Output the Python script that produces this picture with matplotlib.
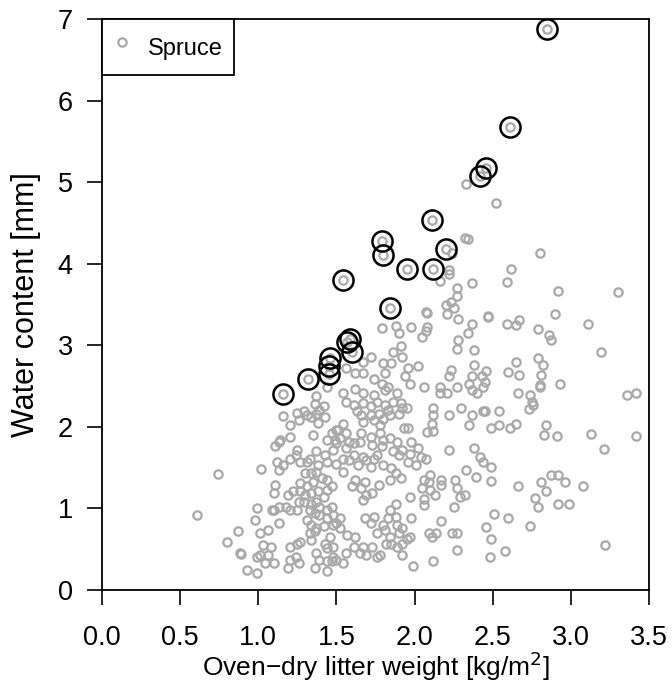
import matplotlib
matplotlib.use("Agg")
import matplotlib.pyplot as plt
from matplotlib.lines import Line2D

# ---- data: oven-dry litter weight [kg/m2] vs. water content [mm] (spruce plots)
spruce_weight = [
    1.16, 1.20, 1.26, 1.25, 1.29, 1.31, 1.34, 1.37, 1.39, 1.43, 1.38, 1.36, 1.42,
    1.35, 1.13, 1.11, 1.20, 1.14, 1.25, 1.24, 1.20, 1.27, 1.31, 1.33, 1.37, 1.43,
    1.44, 1.38, 1.48, 1.49, 1.44, 1.47, 1.50, 1.12, 1.16, 1.13, 1.02, 0.74, 1.30,
    1.34, 1.37, 1.41, 1.44, 1.47, 1.27, 1.31, 1.35, 1.11, 1.10, 1.19, 1.22, 1.27,
    1.30, 1.34, 1.38, 1.44, 1.42, 1.18, 1.13, 1.10, 1.26, 1.29, 1.34, 1.37, 1.39,
    1.47, 1.44, 1.48, 0.99, 0.98, 1.09, 1.20, 1.25, 1.33, 1.36, 1.39, 1.44, 1.48,
    0.61, 1.13, 1.06, 1.01, 0.87, 0.80, 0.88, 0.89, 1.31, 1.34, 1.37, 1.42, 1.33,
    1.34, 1.36, 1.46, 1.43, 1.44, 1.48, 1.48, 1.44, 1.47, 1.03, 1.08, 1.06, 1.01,
    0.99, 1.10, 1.04, 1.20, 1.25, 1.27, 1.24, 1.20, 1.26, 1.19, 1.37, 1.39, 1.36,
    1.44, 0.93, 0.99, 1.37, 1.44,
    1.56, 1.61, 1.67, 1.72, 1.76, 1.81, 1.86, 1.91, 1.95, 1.90, 1.84, 1.77, 1.72,
    1.66, 1.63, 1.67, 1.74, 1.78, 1.80, 1.83, 1.92, 2.12, 2.12, 2.11, 2.08, 2.12,
    2.22, 2.30, 2.37, 2.35, 2.44, 1.54, 1.51, 1.56, 1.52, 1.50, 1.58, 1.56, 1.61,
    1.66, 1.72, 1.65, 1.73, 1.78, 1.80, 1.84, 1.89, 1.93, 1.96, 1.92, 1.98, 1.97,
    2.02, 2.04, 2.07, 2.01, 1.96, 1.90, 1.86, 1.79, 1.76, 1.74, 1.69, 1.67, 1.61,
    1.58, 1.54, 1.64, 1.72, 1.80, 1.85, 1.91, 1.84, 1.88, 1.77, 1.68, 1.66, 1.69,
    1.73, 1.67, 1.62, 1.60, 1.54, 1.50, 2.22, 2.38, 2.42, 2.44, 2.33, 2.39, 2.26,
    2.27, 2.29, 2.32, 2.25, 2.17, 2.17, 2.10, 2.09, 2.06, 2.05, 2.10, 2.13, 2.06,
    2.06, 1.97, 1.88, 1.84, 1.88, 1.83, 1.80, 1.74, 1.68, 1.72, 1.76, 1.81, 1.84,
    1.90, 1.89, 1.92, 1.95, 1.92, 1.97, 1.98, 1.52, 1.50, 1.52, 1.57, 1.62, 1.61,
    1.67, 1.65, 1.69, 1.73, 1.76, 1.78, 1.82, 1.85, 1.89, 1.92, 1.56, 1.54, 1.50,
    1.99, 2.12, 2.17, 2.09, 2.11, 2.14, 2.24, 2.27, 2.27,
    2.66, 2.74, 2.80, 2.75, 2.76, 2.73, 3.36, 3.42, 2.45, 2.54, 2.49, 2.54, 2.61,
    2.65, 2.84, 2.83, 2.91, 3.13, 3.42, 3.21, 2.49, 2.49, 2.66, 2.81, 2.84, 2.87,
    2.92, 2.96, 3.08, 2.77, 2.79, 2.92, 2.99, 2.51, 2.60, 2.46, 2.74, 2.49, 2.58,
    2.48, 3.22,
    2.32, 2.34, 2.24, 2.22, 2.22, 2.16, 2.37, 2.27, 2.27, 2.23, 2.25, 2.20, 2.21,
    2.08, 2.07, 2.28, 2.37, 2.34, 2.28, 2.27, 2.38, 1.79, 1.88, 1.90, 1.98, 2.08,
    2.07, 2.05, 1.91, 1.86, 1.92, 1.85, 1.80, 1.72, 1.67, 1.62, 1.56, 1.67, 1.74,
    1.81, 1.79, 1.83, 1.96, 2.02, 1.94, 1.97, 2.06, 2.16, 2.16, 2.21, 2.23, 2.22,
    2.27, 2.35, 2.37, 2.37, 2.40, 2.43, 2.44, 2.38, 1.54, 1.62, 1.67, 1.74, 1.81,
    1.89, 2.33, 2.52,
    2.80, 2.62, 2.59, 2.92, 3.30, 2.47, 2.47, 2.59, 2.65, 2.67, 2.90, 3.11, 2.79,
    2.86, 2.87, 3.19, 2.46, 2.45, 2.60, 2.65, 2.67, 2.79, 2.82, 2.81, 2.80, 2.93,
]
spruce_water = [
    2.13, 2.02, 2.08, 2.17, 2.20, 2.14, 2.12, 2.16, 2.21, 2.12, 2.05, 2.28, 2.25,
    1.90, 1.82, 1.76, 1.88, 1.84, 1.72, 1.65, 1.61, 1.57, 1.57, 1.61, 1.70, 1.65,
    1.57, 1.53, 1.72, 1.84, 1.84, 1.92, 1.96, 1.57, 1.53, 1.47, 1.48, 1.42, 1.43,
    1.43, 1.45, 1.37, 1.35, 1.27, 1.31, 1.27, 1.33, 1.29, 1.19, 1.17, 1.21, 1.21,
    1.17, 1.19, 1.21, 1.23, 1.14, 1.02, 1.02, 0.98, 1.08, 1.08, 1.06, 1.08, 1.02,
    1.02, 0.98, 0.92, 1.00, 0.86, 0.98, 0.98, 0.98, 0.98, 0.94, 0.92, 0.88, 0.80,
    0.92, 0.82, 0.74, 0.70, 0.72, 0.59, 0.45, 0.44, 0.86, 0.80, 0.76, 0.78, 0.70,
    0.61, 0.72, 0.65, 0.57, 0.51, 0.53, 0.41, 0.35, 0.35, 0.55, 0.53, 0.43, 0.43,
    0.41, 0.33, 0.33, 0.53, 0.57, 0.59, 0.41, 0.37, 0.33, 0.27, 0.45, 0.37, 0.27,
    0.23, 0.25, 0.21, 2.38, 2.49,
    2.31, 2.27, 2.29, 2.25, 2.31, 2.27, 2.31, 2.29, 2.23, 2.16, 2.14, 2.16, 2.14,
    2.14, 2.19, 2.06, 2.08, 2.02, 2.10, 2.21, 2.23, 2.23, 2.14, 2.04, 1.94, 1.95,
    2.14, 2.23, 2.14, 2.02, 2.19, 2.04, 1.96, 1.92, 1.86, 1.80, 1.82, 1.74, 1.80,
    1.92, 1.88, 1.82, 1.78, 1.92, 1.84, 1.86, 1.82, 1.98, 1.98, 1.72, 1.82, 1.67,
    1.74, 1.63, 1.61, 1.53, 1.57, 1.65, 1.70, 1.76, 1.65, 1.61, 1.59, 1.63, 1.65,
    1.59, 1.61, 1.53, 1.51, 1.53, 1.49, 1.37, 1.35, 1.43, 1.29, 1.33, 1.25, 1.16,
    1.19, 1.10, 1.35, 1.27, 1.45, 1.55, 1.72, 1.74, 1.63, 1.57, 1.47, 1.39, 1.35,
    1.25, 1.14, 1.16, 1.02, 1.35, 1.29, 1.41, 1.33, 1.35, 1.25, 1.23, 1.16, 1.12,
    1.04, 1.14, 1.06, 0.98, 0.90, 0.88, 0.80, 0.90, 0.88, 0.82, 0.70, 0.74, 0.65,
    0.70, 0.80, 0.76, 0.63, 0.57, 0.65, 0.88, 0.88, 0.82, 0.76, 0.67, 0.65, 0.53,
    0.53, 0.45, 0.43, 0.53, 0.41, 0.43, 0.57, 0.57, 0.53, 0.43, 0.45, 0.33, 0.37,
    0.29, 0.35, 0.84, 0.70, 0.65, 0.70, 0.70, 0.70, 0.49,
    2.42, 2.39, 2.49, 2.31, 2.27, 2.22, 2.39, 2.41, 2.19, 2.20, 1.99, 2.02, 1.99,
    2.04, 2.02, 1.90, 1.89, 1.91, 1.89, 1.73, 1.51, 1.34, 1.28, 1.32, 1.21, 1.41,
    1.41, 1.32, 1.28, 1.13, 1.02, 1.06, 1.06, 0.93, 0.88, 0.77, 0.78, 0.62, 0.48,
    0.40, 0.55,
    4.32, 4.30, 4.13, 3.92, 3.88, 3.79, 3.76, 3.70, 3.60, 3.53, 3.46, 3.49, 3.38,
    3.39, 3.41, 3.32, 3.26, 3.15, 3.06, 2.96, 2.94, 3.21, 3.24, 3.15, 3.23, 3.22,
    3.17, 3.10, 2.99, 2.92, 2.86, 2.78, 2.78, 2.86, 2.80, 2.66, 2.72, 2.66, 2.59,
    2.66, 2.53, 2.49, 2.72, 2.74, 2.62, 2.53, 2.49, 2.49, 2.41, 2.41, 2.70, 2.62,
    2.49, 2.53, 2.62, 2.45, 2.41, 2.62, 2.49, 2.76, 2.41, 2.47, 2.41, 2.39, 2.45,
    2.41, 4.98, 4.75,
    4.13, 3.93, 3.77, 3.67, 3.65, 3.36, 3.35, 3.26, 3.25, 3.31, 3.38, 3.26, 3.20,
    3.13, 3.07, 2.92, 2.69, 2.55, 2.67, 2.80, 2.63, 2.84, 2.76, 2.64, 2.51, 2.53,
]

# plots whose water content is highlighted
marked_weight = [2.85, 2.61, 2.46, 2.42, 2.11, 1.79, 1.80, 2.20, 1.95, 2.12,
                 1.54, 1.84, 1.59, 1.57, 1.60, 1.16, 1.32, 1.46, 1.45, 1.45]
marked_water = [6.88, 5.67, 5.17, 5.08, 4.54, 4.28, 4.11, 4.18, 3.93, 3.93,
                3.80, 3.46, 3.08, 3.04, 2.92, 2.40, 2.59, 2.84, 2.74, 2.65]

x_ticks = [0.0, 0.5, 1.0, 1.5, 2.0, 2.5, 3.0, 3.5]
y_ticks = [0, 1, 2, 3, 4, 5, 6, 7]

plt.rcParams["font.family"] = ["Liberation Sans", "DejaVu Sans"]

gray = "#a9a9a9"

fig = plt.figure(figsize=(6.72, 6.84), dpi=100)
ax = fig.add_axes([102 / 672, 94 / 684, 547 / 672, 571 / 684])

ax.plot(spruce_weight + marked_weight, spruce_water + marked_water,
        ls="none", marker="o", ms=6.0, mfc="none", mec=gray, mew=1.6, zorder=2)
ax.plot(marked_weight, marked_water, ls="none", marker="o", ms=14.5,
        mfc="none", mec="black", mew=1.8, zorder=3)

ax.set_xlim(0, 3.5)
ax.set_ylim(0, 7)
ax.set_xticks(x_ticks)
ax.set_yticks(y_ticks)
ax.set_xticklabels([f"{v:.1f}" for v in x_ticks], fontsize=19.5)
ax.set_yticklabels([str(v) for v in y_ticks], fontsize=19.5)
ax.tick_params(direction="out", length=11, width=1.2, color="black")
ax.tick_params(axis="x", pad=14)
ax.tick_params(axis="y", pad=10)
for s in ax.spines.values():
    s.set_linewidth(1.3)

ax.set_xlabel("Oven\u2212dry litter weight [kg/m$^2$]", fontsize=19, labelpad=-1)
ax.set_ylabel("Water content [mm]", fontsize=22, labelpad=12)

handle = Line2D([], [], ls="none", marker="o", ms=6.0, mfc="none", mec=gray, mew=1.6)
leg = ax.legend([handle], ["Spruce"], loc="upper left", borderaxespad=0,
                fancybox=False, edgecolor="black", framealpha=1, fontsize=17,
                handlelength=0.8, handleheight=1.9, handletextpad=0.7,
                borderpad=0.45)
leg.get_frame().set_linewidth(1.3)

fig.savefig("out.png", dpi=100)
